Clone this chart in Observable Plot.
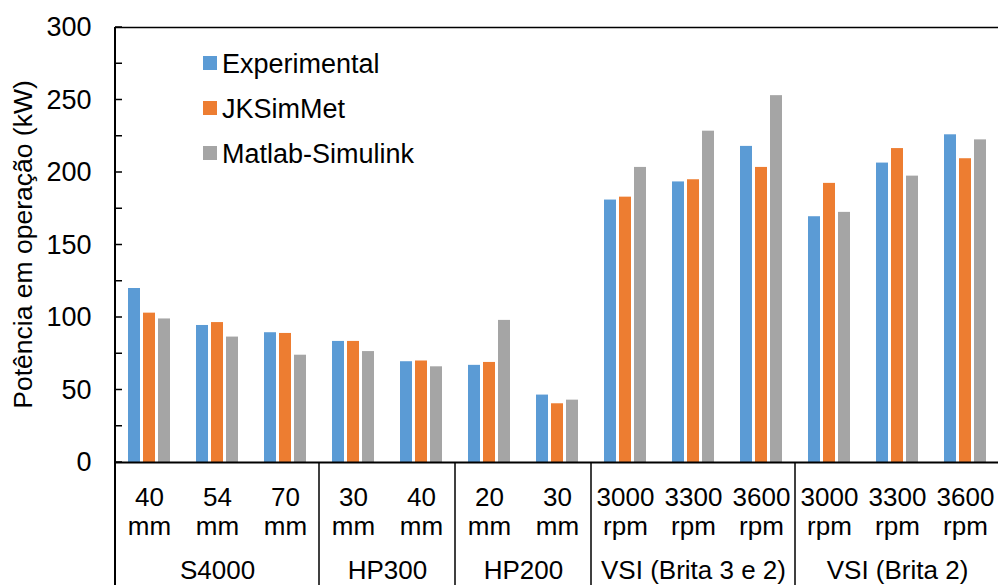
<!DOCTYPE html>
<html><head><meta charset="utf-8">
<script src="https://cdn.jsdelivr.net/npm/d3@7"></script>
<script src="https://cdn.jsdelivr.net/npm/@observablehq/plot@0.6"></script>
<style>body{margin:0;background:#fff;overflow:hidden;}</style>
</head><body><div id="chart"></div>
<script>
const series = ["Experimental", "JKSimMet", "Matlab-Simulink"];
const colors = ["#5B9BD5", "#ED7D31", "#A5A5A5"];
const conditions = ["40\nmm","54\nmm","70\nmm","30\nmm","40\nmm","20\nmm","30\nmm","3000\nrpm","3300\nrpm","3600\nrpm","3000\nrpm","3300\nrpm","3600\nrpm"];
const equipment = ["S4000","HP300","HP200","VSI (Brita 3 e 2)","VSI (Brita 2)"];
const groupSizes = [3, 2, 2, 3, 3];
const experimental = [120, 94.5, 89.5, 83.5, 69.5, 67, 46.5, 181, 193.5, 218, 169.5, 206.5, 226];
const jksimmet = [103, 96.5, 89, 83.5, 70, 69, 40.5, 183, 195, 203.5, 192.5, 216.5, 209.5];
const matlab = [99, 86.5, 74, 76.5, 66, 98, 43, 203.5, 228.5, 253, 172.5, 197.5, 222.5];
const yTicks = [0, 50, 100, 150, 200, 250, 300];
const yMinorTicks = [0, 25, 50, 75, 100, 125, 150, 175, 200, 225, 250, 275, 300];
const yLabel = "Potência em operação (kW)";

const values = [experimental, jksimmet, matlab];
const keys = conditions.map((_, i) => i);
const rows = keys.flatMap(i => series.map((s, j) => ({key: i, series: s, value: values[j][i]})));

let start = 0;
const groups = equipment.map((name, g) => {
  const size = groupSizes[g];
  const o = {name, start, size, even: size % 2 === 0,
    key: size % 2 === 0 ? start + size / 2 - 1 : start + (size - 1) / 2};
  start += size;
  return o;
});

const W = 998, H = 585;
const plot = Plot.plot({
  width: W, height: H,
  marginLeft: 112, marginRight: -4, marginTop: 27, marginBottom: 123,
  style: {fontFamily: "'Liberation Sans', Arial, sans-serif", fontSize: "26px", background: "white", color: "#000", overflow: "visible"},
  fx: {domain: keys, padding: 0},
  x: {domain: series, paddingInner: 0.22, paddingOuter: 0.84, axis: null},
  y: {domain: [0, 300]},
  color: {domain: series, range: colors},
  marks: [
    Plot.barY(rows, {fx: "key", x: "series", y: "value", fill: "series"}),
    Plot.ruleY([0], {stroke: "#000", strokeWidth: 2}),
    Plot.ruleY([300], {stroke: "#000", strokeWidth: 1.5}),
    Plot.axisY({ticks: yTicks, tickSize: 0, tickPadding: 24, label: null, fontSize: 27}),
    Plot.axisFx({anchor: "bottom", tickFormat: k => conditions[k], tickSize: 0, tickPadding: 23, lineHeight: 1.12, label: null, fontSize: 26}),
    Plot.text(groups.filter(d => !d.even), {fx: "key", text: "name", frameAnchor: "bottom", textAnchor: "middle", lineAnchor: "bottom", dy: 116.5, fontSize: 26}),
    Plot.text(groups.filter(d => d.even), {fx: "key", text: "name", frameAnchor: "bottom-right", textAnchor: "middle", lineAnchor: "bottom", dy: 116.5, fontSize: 26})
  ]
});
document.getElementById("chart").appendChild(plot);

const svg = d3.select(plot);
const fx = plot.scale("fx"), y = plot.scale("y");
const g = svg.append("g").attr("stroke", "#000");
// y-axis line and group separators
groups.forEach(gr => {
  const x = fx.apply(gr.start);
  g.append("line").attr("x1", x).attr("x2", x)
    .attr("y1", gr.start === 0 ? y.apply(300) : y.apply(0)).attr("y2", H)
    .attr("stroke-width", gr.start === 0 ? 2 : 1.5);
});
// inward minor ticks
yMinorTicks.forEach(t => {
  const x0 = fx.apply(0);
  g.append("line").attr("x1", x0).attr("x2", x0 + 7).attr("y1", y.apply(t)).attr("y2", y.apply(t)).attr("stroke-width", 1.5);
});
// y label
svg.append("text").attr("transform", `translate(32,${(y.apply(0) + y.apply(300)) / 2}) rotate(-90)`)
  .attr("text-anchor", "middle").attr("font-size", 26.5).attr("fill", "#000").text(yLabel);
// legend
const lg = svg.append("g").attr("font-size", 27).attr("text-anchor", "start");
series.forEach((s, i) => {
  const cy = 63 + i * 45;
  lg.append("rect").attr("x", 203).attr("y", cy - 7).attr("width", 14).attr("height", 14).attr("fill", colors[i]);
  lg.append("text").attr("x", 222).attr("y", cy).attr("dy", "0.36em").attr("fill", "#000").text(s);
});
</script>
</body></html>
